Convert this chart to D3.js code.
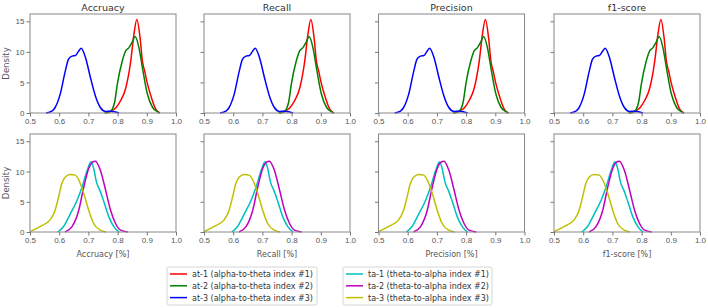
<!DOCTYPE html>
<html>
<head>
<meta charset="utf-8">
<script src="https://cdn.jsdelivr.net/npm/d3@7"></script>
<style>
  body { margin: 0; background: #fff; }
  svg { display: block; font-family: 'DejaVu Sans', sans-serif; }
  .tick text { fill: #555; }
  .tick line { stroke: #777; }
</style>
</head>
<body>
<svg id="chart" width="708" height="308"></svg>
<script>
const metrics = ['Accruacy', 'Recall', 'Precision', 'f1-score'];
const xTicks = [0.5, 0.6, 0.7, 0.8, 0.9, 1.0];
const yTicks = [0, 5, 10, 15];

// [score, density]
const at1 = [[0.76, 0], [0.776, 0.25], [0.795, 0.9], [0.81, 2.0], [0.828, 4.1], [0.845, 8.5], [0.856, 12.9], [0.866, 15.3], [0.877, 12.3], [0.885, 8.5], [0.893, 6.8], [0.902, 4.8], [0.914, 2.8], [0.931, 0.6], [0.945, 0]];
const at2 = [[0.755, 0], [0.776, 0.3], [0.79, 1.8], [0.799, 4.7], [0.816, 8.5], [0.828, 10.2], [0.839, 10.7], [0.85, 11.6], [0.86, 12.5], [0.873, 10.7], [0.885, 7.4], [0.902, 3.1], [0.92, 0.9], [0.937, 0.2], [0.945, 0]];
const at3 = [[0.555, 0], [0.575, 0.3], [0.586, 0.9], [0.603, 3.0], [0.621, 6.9], [0.632, 8.8], [0.644, 9.3], [0.655, 9.4], [0.665, 10.0], [0.675, 10.6], [0.69, 9.1], [0.707, 5.8], [0.724, 2.8], [0.741, 0.9], [0.759, 0.25], [0.775, 0.3], [0.79, 0.2], [0.805, 0]];
const ta1 = [[0.595, 0], [0.615, 0.9], [0.638, 3.0], [0.661, 5.2], [0.678, 7.4], [0.696, 10.2], [0.709, 11.6], [0.718, 10.5], [0.728, 8.2], [0.74, 6.8], [0.753, 5.0], [0.77, 2.5], [0.787, 0.9], [0.805, 0]];
const ta2 = [[0.62, 0], [0.644, 0.9], [0.667, 3.6], [0.684, 7.4], [0.701, 10.5], [0.713, 11.5], [0.724, 11.7], [0.741, 10.2], [0.759, 6.9], [0.776, 3.6], [0.793, 1.4], [0.81, 0.3], [0.835, 0]];
const ta3 = [[0.5, 0.05], [0.534, 0.9], [0.569, 2.0], [0.586, 3.6], [0.598, 5.8], [0.609, 8.0], [0.621, 9.1], [0.638, 9.5], [0.655, 9.4], [0.667, 8.6], [0.684, 6.4], [0.701, 3.6], [0.718, 1.4], [0.741, 0.3], [0.76, 0]];

const topSeries = [
  { name: 'at-1 (alpha-to-theta index #1)', color: '#ff0000', data: at1 },
  { name: 'at-2 (alpha-to-theta index #2)', color: '#008000', data: at2 },
  { name: 'at-3 (alpha-to-theta index #3)', color: '#0000ff', data: at3 }
];
const bottomSeries = [
  { name: 'ta-1 (theta-to-alpha index #1)', color: '#00bfbf', data: ta1 },
  { name: 'ta-2 (theta-to-alpha index #2)', color: '#bf00bf', data: ta2 },
  { name: 'ta-3 (theta-to-alpha index #3)', color: '#bfbf00', data: ta3 }
];

const svg = d3.select('#chart');
const panelW = 146;
const colX = [30, 204, 378.5, 554];
const rows = [
  { top: 14, bottom: 113, series: topSeries },
  { top: 134, bottom: 232, series: bottomSeries }
];

function drawPanel(x0, row, ri, ci) {
  const xScale = d3.scaleLinear().domain([0.5, 1.0]).range([x0, x0 + panelW]);
  const yScale = d3.scaleLinear().domain([0, 16.2]).range([row.bottom, row.top]);

  const line = d3.line()
    .x(d => xScale(d[0]))
    .y(d => yScale(d[1]))
    .curve(d3.curveMonotoneX);

  const g = svg.append('g');

  row.series.forEach(s => {
    g.append('path')
      .datum(s.data)
      .attr('d', line)
      .attr('fill', 'none')
      .attr('stroke', s.color)
      .attr('stroke-width', 1.5);
  });

  // frame
  g.append('rect')
    .attr('x', x0)
    .attr('y', row.top)
    .attr('width', panelW)
    .attr('height', row.bottom - row.top)
    .attr('fill', 'none')
    .attr('stroke', '#888')
    .attr('stroke-width', 1);

  const xAxis = g.append('g')
    .attr('transform', `translate(0,${row.bottom})`)
    .call(d3.axisBottom(xScale).tickValues(xTicks).tickFormat(d3.format('.1f')).tickSize(3.5).tickPadding(2));
  xAxis.select('.domain').remove();
  xAxis.selectAll('text').style('font-size', '8px');

  const yAxis = g.append('g')
    .attr('transform', `translate(${x0},0)`)
    .call(d3.axisLeft(yScale).tickValues(yTicks).tickSize(3.5).tickPadding(2)
      .tickFormat(ci === 0 ? d3.format('d') : () => ''));
  yAxis.select('.domain').remove();
  yAxis.selectAll('text').style('font-size', '8px');

  if (ri === 0) {
    svg.append('text')
      .attr('x', x0 + panelW / 2)
      .attr('y', 11)
      .attr('text-anchor', 'middle')
      .style('font-size', '9.5px')
      .style('fill', '#333')
      .text(metrics[ci]);
  } else {
    svg.append('text')
      .attr('x', x0 + panelW / 2)
      .attr('y', 257)
      .attr('text-anchor', 'middle')
      .style('font-size', '8px')
      .style('fill', '#555')
      .text(metrics[ci] + ' [%]');
  }

  if (ci === 0) {
    svg.append('text')
      .attr('transform', `translate(9,${(row.top + row.bottom) / 2}) rotate(-90)`)
      .attr('text-anchor', 'middle')
      .style('font-size', '8.5px')
      .style('fill', '#555')
      .text('Density');
  }
}

rows.forEach((row, ri) => {
  colX.forEach((x0, ci) => drawPanel(x0, row, ri, ci));
});

function drawLegend(x, series, w) {
  const g = svg.append('g').attr('transform', `translate(${x},267)`);
  g.append('rect')
    .attr('width', w)
    .attr('height', 38)
    .attr('rx', 2)
    .attr('fill', '#fff')
    .attr('stroke', '#ccc')
    .attr('stroke-width', 0.8);
  series.forEach((s, i) => {
    const y = 7 + i * 11.8;
    g.append('line')
      .attr('x1', 3).attr('x2', 20)
      .attr('y1', y).attr('y2', y)
      .attr('stroke', s.color)
      .attr('stroke-width', 1.5);
    g.append('text')
      .attr('x', 25)
      .attr('y', y + 3)
      .style('font-size', '8px')
      .style('fill', '#333')
      .text(s.name);
  });
}

drawLegend(167, topSeries, 150);
drawLegend(343, bottomSeries, 149);
</script>
</body>
</html>
